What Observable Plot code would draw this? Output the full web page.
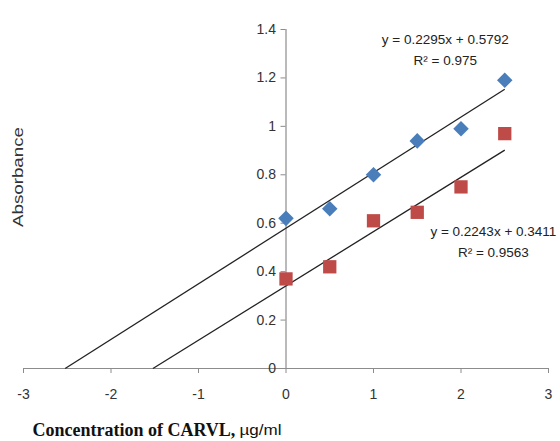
<!DOCTYPE html>
<html><head><meta charset="utf-8">
<script src="https://cdn.jsdelivr.net/npm/d3@7"></script>
<script src="https://cdn.jsdelivr.net/npm/@observablehq/plot@0.6"></script>
<style>body{margin:0;background:#fff}</style>
</head><body><div id="chart"></div>
<script>
const conc = [0, 0.5, 1, 1.5, 2, 2.5];
const seriesA = [0.62, 0.66, 0.80, 0.94, 0.99, 1.19];
const seriesB = [0.37, 0.42, 0.61, 0.645, 0.75, 0.97];
const slopes = [0.2295, 0.2243];
const intercepts = [0.5792, 0.3411];
const trendStart = [-2.524, -1.521];
const trendEnd = [2.5, 2.5];
const eqLabels = ["y = 0.2295x + 0.5792", "y = 0.2243x + 0.3411"];
const r2Labels = ["R² = 0.975", "R² = 0.9563"];
const eqX = [1.82, 2.37];
const eqY = [1.36, 0.565];
const xTicks = [-3, -2, -1, 0, 1, 2, 3];
const yTicks = [0, 0.2, 0.4, 0.6, 0.8, 1, 1.2, 1.4];
const yTickLabels = ["0", "0.2", "0.4", "0.6", "0.8", "1", "1.2", "1.4"];

const ptsA = conc.map((x, i) => ({x, y: seriesA[i]}));
const ptsB = conc.map((x, i) => ({x, y: seriesB[i]}));
const trends = slopes.map((m, i) => ({x1: trendStart[i], x2: trendEnd[i], y1: m * trendStart[i] + intercepts[i], y2: m * trendEnd[i] + intercepts[i]}));
const eqs = eqLabels.map((t, i) => ({x: eqX[i], y: eqY[i], t, r: r2Labels[i]}));

const font = "'Liberation Sans Narrow', 'Liberation Sans', Arial, sans-serif";
const chart = Plot.plot({
  width: 560, height: 441,
  marginLeft: 23, marginRight: 12, marginTop: 29, marginBottom: 73,
  x: {domain: [-3, 3], axis: null},
  y: {domain: [0, 1.4], axis: null},
  style: {fontFamily: font, background: "#fff"},
  marks: [
    Plot.ruleY([0], {stroke: "#8c8c8c", strokeWidth: 1.2}),
    Plot.ruleX([0], {stroke: "#8c8c8c", strokeWidth: 1.2}),
    Plot.ruleY(yTicks, {y: d => d, x1: 0, x2: 0, insetLeft: -5, stroke: "#8c8c8c"}),
    Plot.ruleX(xTicks, {x: d => d, y1: 0, y2: 0, insetBottom: -5, stroke: "#8c8c8c"}),
    Plot.text(yTicks, {x: 0, y: d => d, text: (d, i) => yTickLabels[i], dx: -10, textAnchor: "end", fontSize: 14, fill: "#333"}),
    Plot.text(xTicks, {x: d => d, y: 0, text: d => d < 0 ? "-" + Math.abs(d) : String(d), dy: 26, fontSize: 14, fill: "#333"}),
    Plot.link(trends, {x1: "x1", y1: "y1", x2: "x2", y2: "y2", stroke: "#222", strokeWidth: 1.3}),
    Plot.dot(ptsA, {x: "x", y: "y", symbol: "diamond2", r: 7, fill: "#4a7ebb", stroke: "none"}),
    Plot.dot(ptsB, {x: "x", y: "y", symbol: "square", r: 7.5, fill: "#be4b48", stroke: "none"}),
    Plot.text(eqs, {x: "x", y: "y", text: "t", fontSize: 13.5, fill: "#222"}),
    Plot.text(eqs, {x: "x", y: "y", text: "r", dy: 21, fontSize: 13.5, fill: "#222"}),
    Plot.text(["Concentration of CARVL,"], {frameAnchor: "bottom-left", text: d => d, dx: 9, dy: 67, textAnchor: "start", fontFamily: "'Liberation Serif', 'Times New Roman', serif", fontWeight: "bold", fontSize: 18, fill: "#111"}),
    Plot.text(["µg/ml"], {frameAnchor: "bottom-left", text: d => d, dx: 216, dy: 66, textAnchor: "start", fontFamily: "'Liberation Sans', Arial, sans-serif", fontSize: 15, fill: "#111"}),
    Plot.text(["Absorbance"], {frameAnchor: "left", text: d => d, rotate: -90, dx: -5, dy: 28, fontFamily: "'Liberation Sans', Arial, sans-serif", fontSize: 14, fill: "#333"})
  ]
});
d3.select(chart).selectAll("text").filter(function() { return this.textContent === "Absorbance"; })
  .attr("textLength", 100).attr("lengthAdjust", "spacingAndGlyphs");
d3.select(chart).selectAll("text").filter(function() { return this.textContent === "µg/ml"; })
  .attr("textLength", 42).attr("lengthAdjust", "spacingAndGlyphs");
document.getElementById("chart").append(chart);
</script>
</body></html>
